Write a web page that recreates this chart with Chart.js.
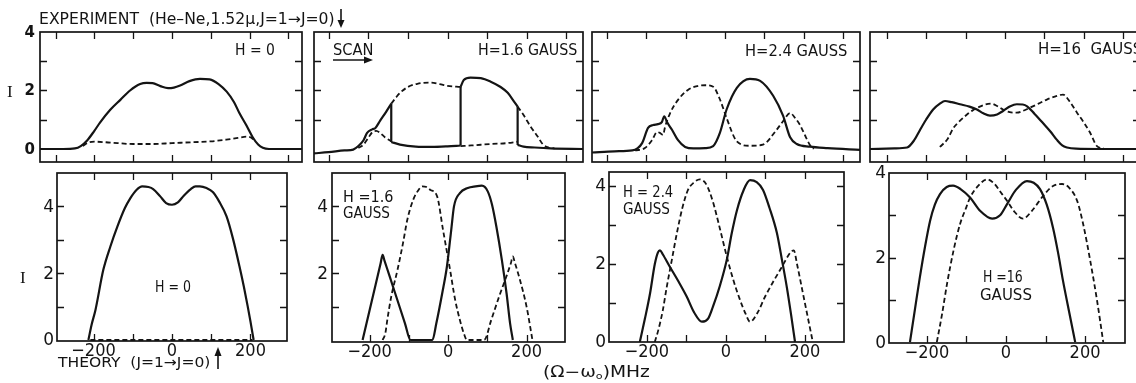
<!DOCTYPE html>
<html>
<head>
<meta charset="utf-8">
<script src="https://cdn.jsdelivr.net/npm/chart.js@4.4.1/dist/chart.umd.min.js"></script>
<style>
  html, body { margin: 0; padding: 0; background: #fff; }
  body { position: relative; width: 1136px; height: 383px; overflow: hidden;
         font-family: "DejaVu Sans", "Liberation Sans", Arial, sans-serif; color: #141414; }
  canvas { position: absolute; }
  .lbl { position: absolute; white-space: pre; line-height: 1; transform-origin: 0 50%; }
  svg.over { position: absolute; left: 0; top: 0; }
</style>
</head>
<body>
<script>
// ---- Frequency offsets (MHz) and intensities of every trace ----
// Experiment, H = 0
const expH0_solid_f  = [-340, -280, -250, -235, -218, -200, -185, -159, -133, -108, -82, -65, -50, -30, -10, 5, 21, 45, 72, 97, 120, 141, 160, 174, 192, 208, 222, 234, 250, 335];
const expH0_solid_i  = [0, 0, 0.02, 0.1, 0.3, 0.62, 0.91, 1.34, 1.68, 2.0, 2.22, 2.26, 2.25, 2.15, 2.08, 2.1, 2.17, 2.32, 2.4, 2.38, 2.22, 1.96, 1.6, 1.22, 0.8, 0.4, 0.15, 0.04, 0, 0];
const expH0_dash_f   = [-230, -215, -200, -170, -140, -100, -50, 0, 50, 100, 140, 170, 192, 205, 212];
const expH0_dash_i   = [0.1, 0.22, 0.25, 0.23, 0.2, 0.17, 0.17, 0.2, 0.23, 0.26, 0.32, 0.38, 0.42, 0.38, 0.3];

// Experiment, H = 1.6 gauss (repeated frequency = abrupt mode switch)
const expH16_solid_f = [-337, -300, -260, -238, -225, -212, -203, -190, -182, -170, -155, -142, -142, -120, -80, -40, 0, 33, 33, 41, 58, 84, 109, 134, 152, 168, 177, 177, 192, 220, 260, 342];
const expH16_solid_i = [-0.15, -0.11, -0.05, -0.02, 0.1, 0.3, 0.55, 0.67, 0.72, 0.97, 1.27, 1.55, 0.24, 0.15, 0.08, 0.07, 0.09, 0.12, 2.12, 2.36, 2.44, 2.42, 2.3, 2.12, 1.92, 1.62, 1.45, 0.14, 0.08, 0.05, 0.02, 0];
const expH16_dash_f  = [-225, -212, -200, -190, -180, -170, -158, -142, -142, -130, -119, -100, -76, -43, -20, 0, 33, 33, 60, 109, 150, 177, 177, 192, 210, 228, 240, 255, 270];
const expH16_dash_i  = [0.03, 0.15, 0.38, 0.57, 0.62, 0.55, 0.4, 0.26, 1.55, 1.76, 1.93, 2.12, 2.23, 2.27, 2.22, 2.16, 2.12, 0.1, 0.12, 0.17, 0.2, 0.25, 1.45, 1.16, 0.76, 0.42, 0.17, 0.05, 0.02];

// Experiment, H = 2.4 gauss
const expH24_solid_f = [-337, -280, -235, -222, -210, -195, -182, -170, -160, -154, -147, -134, -119, -101, -80, -50, -30, -13, 4, 30, 63, 89, 122, 147, 165, 182, 215, 260, 342];
const expH24_solid_i = [-0.12, -0.08, -0.05, 0.02, 0.2, 0.72, 0.82, 0.85, 0.92, 1.12, 0.92, 0.65, 0.3, 0.07, 0.02, 0.03, 0.1, 0.55, 1.35, 2.09, 2.4, 2.33, 1.82, 1.14, 0.4, 0.17, 0.08, 0.03, -0.03];
const expH24_dash_f  = [-228, -203, -185, -172, -165, -157, -152, -139, -119, -94, -70, -50, -30, -13, 4, 30, 63, 96, 131, 147, 165, 178, 190, 205, 215, 225];
const expH24_dash_i  = [-0.05, 0.03, 0.3, 0.58, 0.55, 0.48, 0.75, 1.23, 1.68, 2.02, 2.15, 2.18, 2.13, 1.7, 1.06, 0.26, 0.11, 0.15, 0.66, 0.95, 1.23, 1.05, 0.82, 0.4, 0.14, 0];

// Experiment, H = 16 gauss
const expH160_solid_f = [-342, -280, -248, -230, -215, -200, -182, -165, -152, -135, -114, -90, -71, -55, -38, -20, -5, 12, 30, 45, 56, 75, 96, 115, 131, 145, 157, 180, 240, 345];
const expH160_solid_i = [0, 0.02, 0.05, 0.3, 0.66, 1.0, 1.35, 1.55, 1.64, 1.6, 1.53, 1.45, 1.35, 1.22, 1.14, 1.18, 1.3, 1.45, 1.53, 1.52, 1.46, 1.2, 0.89, 0.6, 0.32, 0.12, 0.05, 0.01, 0, 0];
const expH160_dash_f  = [-165, -145, -131, -115, -97, -82, -68, -50, -34, -20, -5, 12, 30, 45, 63, 85, 106, 128, 147, 165, 182, 200, 215, 233, 250];
const expH160_dash_i  = [0.07, 0.35, 0.71, 0.95, 1.17, 1.32, 1.42, 1.52, 1.55, 1.47, 1.35, 1.26, 1.24, 1.3, 1.41, 1.55, 1.69, 1.8, 1.86, 1.6, 1.25, 0.9, 0.57, 0.1, 0.02];

// Theory, H = 0
const thH0_solid_f = [-213, -205, -195, -175, -157, -139, -120, -106, -90, -76, -60, -48, -30, -15, 0, 15, 30, 48, 60, 71, 88, 104, 120, 139, 155, 172, 183, 193, 200, 208];
const thH0_solid_i = [0, 0.45, 0.9, 2.1, 2.8, 3.4, 3.95, 4.25, 4.5, 4.6, 4.58, 4.52, 4.3, 4.1, 4.05, 4.12, 4.32, 4.52, 4.6, 4.6, 4.55, 4.43, 4.15, 3.7, 3.05, 2.2, 1.6, 1.0, 0.55, 0];
const thH0_dash_f  = [-208, 205];
const thH0_dash_i  = [0, 0];

// Theory, H = 1.6 gauss
const thH16_solid_f = [-218, -200, -185, -172, -167, -162, -150, -130, -110, -96, -40, -30, -15, -3, 8, 15, 30, 50, 70, 86, 101, 112, 123, 137, 149, 158, 165];
const thH16_solid_i = [0, 0.9, 1.65, 2.3, 2.55, 2.37, 1.94, 1.22, 0.5, 0, 0, 0.5, 1.4, 2.2, 3.3, 4.0, 4.4, 4.55, 4.6, 4.62, 4.45, 4.05, 3.4, 2.4, 1.4, 0.5, 0];
const thH16_dash_f  = [-167, -160, -155, -145, -129, -115, -104, -89, -75, -66, -55, -46, -28, -13, 5, 18, 30, 40, 48, 92, 110, 130, 150, 160, 165, 170, 182, 200, 215];
const thH16_dash_i  = [0, 0.2, 0.6, 1.3, 2.1, 2.9, 3.6, 4.2, 4.5, 4.6, 4.58, 4.5, 4.3, 3.3, 2.1, 1.2, 0.6, 0.2, 0, 0, 0.6, 1.3, 1.95, 2.3, 2.5, 2.32, 1.85, 1.0, 0];

// Theory, H = 2.4 gauss
const thH24_solid_f = [-218, -205, -192, -180, -172, -167, -160, -142, -120, -99, -80, -61, -45, -33, -15, 2, 15, 28, 45, 61, 78, 94, 110, 129, 142, 154, 165, 175];
const thH24_solid_i = [0, 0.6, 1.25, 2.0, 2.3, 2.35, 2.25, 1.93, 1.55, 1.16, 0.75, 0.52, 0.6, 0.9, 1.45, 2.1, 2.8, 3.38, 3.9, 4.15, 4.1, 3.9, 3.45, 2.8, 2.1, 1.42, 0.7, 0];
const thH24_dash_f  = [-180, -170, -160, -150, -137, -124, -110, -96, -80, -66, -50, -33, -15, 2, 20, 35, 50, 61, 80, 99, 120, 142, 160, 167, 172, 180, 195, 208, 220];
const thH24_dash_i  = [0, 0.35, 0.8, 1.4, 2.1, 2.8, 3.45, 3.9, 4.1, 4.17, 4.05, 3.6, 2.9, 2.2, 1.55, 1.1, 0.72, 0.52, 0.75, 1.16, 1.55, 1.93, 2.25, 2.33, 2.35, 2.0, 1.25, 0.6, 0];

// Theory, H = 16 gauss
const thH160_solid_f = [-243, -230, -218, -205, -192, -180, -167, -150, -134, -115, -91, -65, -35, -15, 3, 25, 53, 70, 86, 103, 119, 132, 144, 160, 175];
const thH160_solid_i = [0, 0.8, 1.53, 2.25, 2.87, 3.25, 3.5, 3.67, 3.7, 3.62, 3.42, 3.1, 2.92, 3.0, 3.27, 3.6, 3.81, 3.77, 3.62, 3.25, 2.7, 2.1, 1.46, 0.7, 0];
const thH160_dash_f  = [-175, -162, -149, -132, -116, -100, -91, -70, -48, -30, -10, 3, 20, 43, 65, 94, 120, 142, 160, 180, 195, 213, 230, 246];
const thH160_dash_i  = [0, 0.65, 1.39, 2.2, 2.8, 3.2, 3.42, 3.7, 3.85, 3.75, 3.5, 3.34, 3.1, 2.92, 3.1, 3.46, 3.7, 3.74, 3.65, 3.34, 2.8, 1.93, 1.0, 0];

// ---- Axis ticks and tick labels ----
const expFreqTicks   = [-300, -200, -100, 0, 100, 200, 300];
const expIntTicks    = [1, 2, 3];
const expIntLabels   = [0, 2, 4];
const thFreqTicks    = [-200, -100, 0, 100, 200];
const thFreqLabels   = [-200, 0, 200];
const thIntTicks5    = [1, 2, 3, 4];
const thIntTicks4    = [1, 2, 3];
const thIntLabels    = [0, 2, 4];
const thIntLabelsB   = [2, 4];

const INK = '#141414';
const MARGIN = 30;

// Split a trace wherever the frequency repeats: smooth pieces plus vertical switch lines
function pieces(f, v) {
  const out = [];
  let cur = [{ x: f[0], y: v[0] }];
  for (let k = 1; k < f.length; k++) {
    if (f[k] === f[k - 1]) {
      out.push({ pts: cur, step: false });
      out.push({ pts: [{ x: f[k - 1], y: v[k - 1] }, { x: f[k], y: v[k] }], step: true });
      cur = [{ x: f[k], y: v[k] }];
    } else {
      cur.push({ x: f[k], y: v[k] });
    }
  }
  out.push({ pts: cur, step: false });
  return out;
}

function traceSets(f, v, dashed) {
  const sets = [];
  pieces(f, v).forEach(p => {
    if (p.step && dashed) return;
    sets.push({
      data: p.pts,
      showLine: true,
      borderColor: INK,
      backgroundColor: INK,
      borderWidth: dashed ? 1.8 : 2.2,
      borderDash: dashed ? [5, 3] : [],
      pointRadius: 0,
      tension: 0,
      cubicInterpolationMode: p.step ? 'default' : 'monotone',
      fill: false
    });
  });
  return sets;
}

function fmt(v) { return v < 0 ? '\u2212' + Math.abs(v) : String(v); }

function framePlugin(cfg) {
  return {
    id: 'frame',
    afterDatasetsDraw(chart) {
      const { ctx, chartArea: a } = chart;
      const x = chart.scales.x, y = chart.scales.y;
      const L = 7;
      ctx.save();
      ctx.strokeStyle = INK;
      ctx.lineWidth = 1.7;
      ctx.strokeRect(a.left, a.top, a.right - a.left, a.bottom - a.top);
      ctx.lineWidth = 1.3;
      ctx.beginPath();
      cfg.xTicks.forEach(v => {
        const p = Math.round(x.getPixelForValue(v)) + 0.5;
        ctx.moveTo(p, a.top); ctx.lineTo(p, a.top + L);
        ctx.moveTo(p, a.bottom); ctx.lineTo(p, a.bottom - L);
      });
      cfg.yTicks.forEach(v => {
        const p = Math.round(y.getPixelForValue(v)) + 0.5;
        ctx.moveTo(a.left, p); ctx.lineTo(a.left + L, p);
        ctx.moveTo(a.right, p); ctx.lineTo(a.right - L, p);
      });
      ctx.stroke();
      ctx.fillStyle = INK;
      ctx.font = cfg.yFont;
      ctx.textAlign = 'right';
      ctx.textBaseline = 'middle';
      cfg.yLabels.forEach(v => ctx.fillText(fmt(v), a.left - cfg.yGap, y.getPixelForValue(v) + 1));
      ctx.font = cfg.xFont;
      ctx.textAlign = 'center';
      ctx.textBaseline = 'top';
      cfg.xLabels.forEach(v => {
        // digits are set slightly narrower, as in hand lettering
        ctx.save();
        ctx.translate(x.getPixelForValue(v), a.bottom + 1);
        ctx.scale(0.9, 1);
        ctx.fillText(fmt(v), 0, 0);
        ctx.restore();
      });
      ctx.restore();
    }
  };
}

// Panel frames (pixels) and the value ranges they span
const panels = [
  { box: [40, 32, 302, 162],   xr: [-340, 335], yr: [-0.445, 4.0], traces: [[expH0_dash_f, expH0_dash_i, true], [expH0_solid_f, expH0_solid_i, false]],
    xTicks: expFreqTicks, yTicks: expIntTicks, xLabels: [], yLabels: expIntLabels, yGap: 5, yFont: 'bold 15px "DejaVu Sans"' },
  { box: [314, 32, 583, 162],  xr: [-337, 342], yr: [-0.445, 4.0], traces: [[expH16_dash_f, expH16_dash_i, true], [expH16_solid_f, expH16_solid_i, false]],
    xTicks: expFreqTicks, yTicks: expIntTicks, xLabels: [], yLabels: [] },
  { box: [592, 32, 860, 162],  xr: [-337, 342], yr: [-0.445, 4.0], traces: [[expH24_dash_f, expH24_dash_i, true], [expH24_solid_f, expH24_solid_i, false]],
    xTicks: expFreqTicks, yTicks: expIntTicks, xLabels: [], yLabels: [] },
  { box: [870, 32, 1140, 162], xr: [-342, 342], yr: [-0.445, 4.0], traces: [[expH160_dash_f, expH160_dash_i, true], [expH160_solid_f, expH160_solid_i, false]],
    xTicks: expFreqTicks, yTicks: expIntTicks, xLabels: [], yLabels: [] },
  { box: [57, 173, 287, 341],  xr: [-293, 293], yr: [-0.03, 5.0], traces: [[thH0_dash_f, thH0_dash_i, true], [thH0_solid_f, thH0_solid_i, false]],
    xTicks: thFreqTicks, yTicks: thIntTicks5, xLabels: thFreqLabels, yLabels: thIntLabels, yGap: 3 },
  { box: [332, 173, 565, 342], xr: [-296, 298], yr: [-0.06, 5.0], traces: [[thH16_dash_f, thH16_dash_i, true], [thH16_solid_f, thH16_solid_i, false]],
    xTicks: thFreqTicks, yTicks: thIntTicks5, xLabels: thFreqLabels, yLabels: thIntLabelsB, yGap: 4 },
  { box: [609, 172, 844, 342], xr: [-296, 299], yr: [0, 4.36], traces: [[thH24_dash_f, thH24_dash_i, true], [thH24_solid_f, thH24_solid_i, false]],
    xTicks: thFreqTicks, yTicks: thIntTicks5, xLabels: thFreqLabels, yLabels: thIntLabels, yGap: 3 },
  { box: [889, 173, 1125, 343], xr: [-296, 301], yr: [-0.02, 4.0], traces: [[thH160_dash_f, thH160_dash_i, true], [thH160_solid_f, thH160_solid_i, false]],
    xTicks: thFreqTicks, yTicks: thIntTicks4, xLabels: thFreqLabels, yLabels: thIntLabels, yGap: 3 }
];

panels.forEach(p => {
  const [l, t, r, b] = p.box;
  const cv = document.createElement('canvas');
  cv.width = (r - l) + 2 * MARGIN;
  cv.height = (b - t) + 2 * MARGIN;
  cv.style.left = (l - MARGIN) + 'px';
  cv.style.top = (t - MARGIN) + 'px';
  document.body.appendChild(cv);
  let datasets = [];
  p.traces.forEach(([f, v, d]) => { datasets = datasets.concat(traceSets(f, v, d)); });
  new Chart(cv, {
    type: 'scatter',
    data: { datasets },
    options: {
      responsive: false,
      animation: false,
      events: [],
      layout: { padding: MARGIN },
      scales: {
        x: { type: 'linear', min: p.xr[0], max: p.xr[1], display: false },
        y: { type: 'linear', min: p.yr[0], max: p.yr[1], display: false }
      },
      plugins: { legend: { display: false }, tooltip: { enabled: false } }
    },
    plugins: [framePlugin({
      xTicks: p.xTicks, yTicks: p.yTicks, xLabels: p.xLabels, yLabels: p.yLabels,
      yGap: p.yGap || 4,
      yFont: p.yFont || '17px "DejaVu Sans"',
      xFont: '18px "DejaVu Sans"'
    })]
  });
});

// Captions: left edge, vertical centre, font size, target width
const captions = [
  { t: 'EXPERIMENT  (He\u2013Ne,1.52\u03bc,J=1\u2192J=0)', x: 39, y: 18.5, s: 15, w: 296 },
  { t: 'I', x: 7, y: 91, s: 17, serif: true },
  { t: 'H = 0', x: 235, y: 50, s: 15, w: 40 },
  { t: 'SCAN', x: 333, y: 50, s: 15, w: 40 },
  { t: 'H=1.6 GAUSS', x: 478, y: 50, s: 15, w: 99 },
  { t: 'H=2.4 GAUSS', x: 745, y: 51, s: 15, w: 102 },
  { t: 'H=16  GAUSS', x: 1038, y: 49, s: 15, w: 104 },
  { t: 'I', x: 20, y: 277, s: 17, serif: true },
  { t: 'H = 0', x: 155, y: 287, s: 15, w: 36 },
  { t: 'H =1.6', x: 343, y: 197, s: 15, w: 50 },
  { t: 'GAUSS', x: 343, y: 213, s: 15, w: 47 },
  { t: 'H = 2.4', x: 623, y: 192, s: 15, w: 50 },
  { t: 'GAUSS', x: 623, y: 209, s: 15, w: 47 },
  { t: 'H =16', x: 983, y: 277, s: 15, w: 40 },
  { t: 'GAUSS', x: 980, y: 295, s: 15, w: 52 },
  { t: 'THEORY  (J=1\u2192J=0)', x: 58, y: 362, s: 14, w: 152 },
  { t: '(\u03a9\u2212\u03c9<sub style="font-size:9px;vertical-align:-2px">o</sub>)MHz', x: 543, y: 373, s: 15, w: 107, html: true }
];

captions.forEach(c => {
  const d = document.createElement('div');
  d.className = 'lbl';
  if (c.html) d.innerHTML = c.t; else d.textContent = c.t;
  d.style.left = c.x + 'px';
  d.style.top = c.y + 'px';
  d.style.fontSize = c.s + 'px';
  if (c.serif) d.style.fontFamily = '"Liberation Serif", serif';
  document.body.appendChild(d);
  const k = c.w ? c.w / d.offsetWidth : 1;
  d.style.transform = 'translateY(-50%) scaleX(' + k.toFixed(3) + ')';
});

// Arrows: above the experiment row, under SCAN, and after the theory caption
const NS = 'http://www.w3.org/2000/svg';
const svg = document.createElementNS(NS, 'svg');
svg.setAttribute('class', 'over');
svg.setAttribute('width', '1136');
svg.setAttribute('height', '383');
svg.innerHTML =
  '<g stroke="' + INK + '" stroke-width="1.6" fill="' + INK + '">' +
  '<line x1="341" y1="9" x2="341" y2="22"/><path d="M337.5 20 L344.5 20 L341 28 Z" stroke="none"/>' +
  '<line x1="333" y1="60" x2="366" y2="60"/><path d="M364 56.5 L364 63.5 L373 60 Z" stroke="none"/>' +
  '<line x1="218" y1="354" x2="218" y2="369"/><path d="M214.5 356 L221.5 356 L218 347 Z" stroke="none"/>' +
  '</g>';
document.body.appendChild(svg);
</script>
</body>
</html>
